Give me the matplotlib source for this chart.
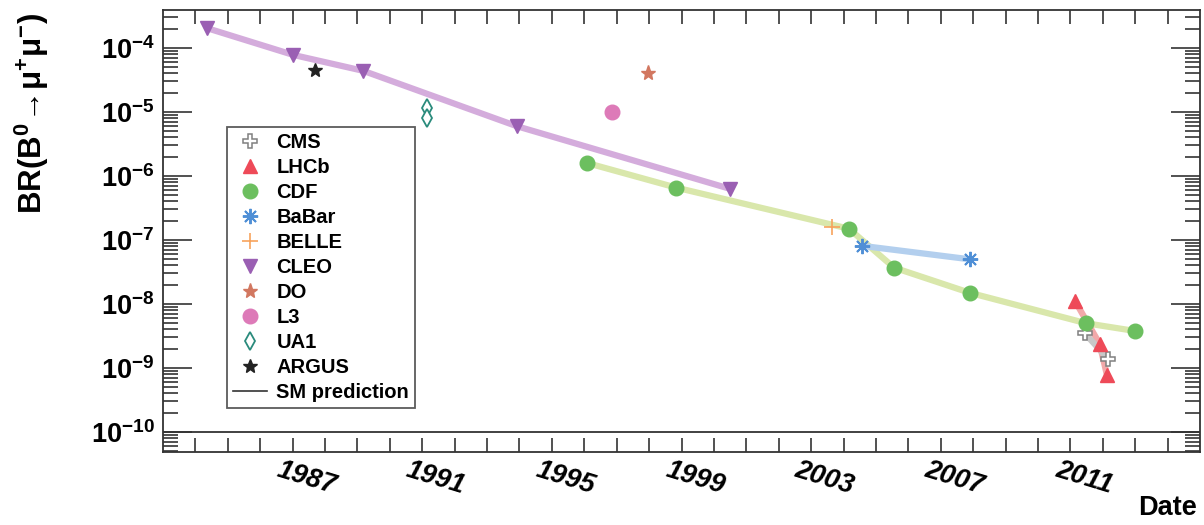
import matplotlib
matplotlib.use("Agg")
import matplotlib.pyplot as plt
from matplotlib.lines import Line2D
from matplotlib.ticker import FixedLocator, FuncFormatter, NullFormatter
import matplotlib.transforms as mtransforms
import numpy as np

plt.rcParams['font.family'] = ['Liberation Sans', 'DejaVu Sans']
plt.rcParams['mathtext.fontset'] = 'custom'
plt.rcParams['mathtext.rm'] = 'Liberation Sans:bold'
plt.rcParams['mathtext.bf'] = 'Liberation Sans:bold'
plt.rcParams['mathtext.it'] = 'Liberation Sans:bold:italic'

# ---------------- data ----------------
cms_year = [2011.44, 2012.16]
cms_br = [3.5e-9, 1.4e-9]
lhcb_year = [2011.15, 2011.90, 2012.13]
lhcb_br = [1.1e-8, 2.4e-9, 7.7e-10]
cdf_year = [1996.08, 1998.83, 2004.17, 2005.56, 2007.89, 2011.49, 2012.98]
cdf_br = [1.6e-6, 6.6e-7, 1.5e-7, 3.7e-8, 1.5e-8, 5.0e-9, 3.8e-9]
babar_year = [2004.58, 2007.89]
babar_br = [8.1e-8, 5.0e-8]
belle_year = [2003.64]
belle_br = [1.6e-7]
cleo_year = [1984.35, 1987.02, 1989.18, 1993.92, 2000.5]
cleo_br = [2.05e-4, 7.8e-5, 4.4e-5, 6.0e-6, 6.3e-7]
d0_year = [1997.97]
d0_br = [4.1e-5]
l3_year = [1996.85]
l3_br = [1.0e-5]
ua1_year = [1991.16, 1991.16]
ua1_br = [1.17e-5, 8.2e-6]
argus_year = [1987.69]
argus_br = [4.5e-5]

year_labels = [1987, 1991, 1995, 1999, 2003, 2007, 2011]
tick_years = list(range(1984, 2015))

# ---------------- figure ----------------
fig = plt.figure(figsize=(12.04, 5.25), dpi=100)
ax = fig.add_axes([163/1204, 1-452/525, (1200-163)/1204, (452-10)/525])
ax.set_yscale('log')
ax.set_xlim(1983, 2015)
ax.set_ylim(10**-10.3125, 10**-3.406)

# trend lines
ax.plot(cleo_year, cleo_br, color='#d4acdc', lw=4.5, solid_capstyle='butt', zorder=2)
ax.plot(cdf_year, cdf_br, color='#d9e7ab', lw=4.5, solid_capstyle='butt', zorder=2)
ax.plot(babar_year, babar_br, color='#b3cfee', lw=4.5, solid_capstyle='butt', zorder=2)
ax.plot(lhcb_year, lhcb_br, color='#f2a9aa', lw=4.5, solid_capstyle='butt', zorder=2)
ax.plot(cms_year, cms_br, color='#c8c8c8', lw=4.5, solid_capstyle='butt', zorder=2)

# markers
h_cms, = ax.plot(cms_year, cms_br, ls='none', marker='P', ms=10, mfc='white', mec='#808080', mew=1.1, zorder=4, label='CMS')
h_lhcb, = ax.plot(lhcb_year, lhcb_br, ls='none', marker='^', ms=10, color='#ee4a58', zorder=4, label='LHCb')
h_cdf, = ax.plot(cdf_year, cdf_br, ls='none', marker='o', ms=10.5, color='#6cbf5f', zorder=4, label='CDF')
h_babar, = ax.plot(babar_year, babar_br, ls='none', marker=(8, 2, 0), ms=11, color='#4f8fd6', mew=1.4, zorder=4, label='BaBar')
h_belle, = ax.plot(belle_year, belle_br, ls='none', marker='+', ms=12, color='#f7a35c', mew=1.2, zorder=4, label='BELLE')
h_cleo, = ax.plot(cleo_year, cleo_br, ls='none', marker='v', ms=10, color='#9a5fb3', zorder=4, label='CLEO')
h_d0, = ax.plot(d0_year, d0_br, ls='none', marker='*', ms=11, color='#d27760', zorder=4, label='DO')
h_l3, = ax.plot(l3_year, l3_br, ls='none', marker='o', ms=10.5, color='#dd7ab8', zorder=4, label='L3')
h_ua1, = ax.plot(ua1_year, ua1_br, ls='none', marker='d', ms=9, mfc='white', mec='#2a8b7c', mew=1.3, zorder=4, label='UA1')
h_argus, = ax.plot(argus_year, argus_br, ls='none', marker='*', ms=10, color='#222222', zorder=4, label='ARGUS')
h_sm = Line2D([], [], color='#333333', lw=1.2, label='SM prediction')

ax.axhline(1e-10, color='#333333', lw=1.3, zorder=1)

# axes styling
for sp in ax.spines.values():
    sp.set_linewidth(1.3)
    sp.set_color('#333333')

ax.xaxis.set_major_locator(FixedLocator(tick_years))
ax.xaxis.set_major_formatter(NullFormatter())
ax.xaxis.set_minor_locator(FixedLocator([]))
ax.tick_params(axis='x', which='major', direction='in', top=True, bottom=True,
               length=10, width=1.2, color='#333333')

ax.yaxis.set_major_locator(FixedLocator([10.0**k for k in range(-11, -2)]))
ax.yaxis.set_major_formatter(FuncFormatter(lambda v, p: r'$\mathbf{10^{%d}}$' % int(round(np.log10(v)))))
minor_vals = []
for k in range(-11, -2):
    for s in [2, 3, 4, 5, 6, 7, 8, 9]:
        minor_vals.append(s * 10.0**k)
ax.yaxis.set_minor_locator(FixedLocator(minor_vals))
ax.yaxis.set_minor_formatter(NullFormatter())
ax.tick_params(axis='y', which='major', direction='in', left=True, right=True,
               length=21, width=1.2, color='#333333', labelsize=19.5, pad=6)
ax.tick_params(axis='y', which='minor', direction='in', left=True, right=True,
               length=11, width=1.2, color='#333333')

# x labels (rotated, bold italic)
trans = mtransforms.blended_transform_factory(ax.transData, ax.transAxes)
for yr in year_labels:
    ax.text(yr + 0.42, -0.059, str(yr), transform=trans, rotation=-17,
            ha='center', va='center', rotation_mode='anchor',
            fontsize=19.5, fontweight='bold', fontstyle='italic')

ax.text(0.997, -0.127, 'Date', transform=ax.transAxes, ha='right', va='center',
        fontsize=19.5, fontweight='bold')

ax.text(-0.1263, 0.767, r'BR(B$^{\mathbf{0}}\!\rightarrow\!\mathbf{\mu^{+}\mu^{-}}$)',
        transform=ax.transAxes, rotation=90, ha='center', va='center',
        fontsize=22.5, fontweight='bold')

leg = ax.legend(handles=[h_cms, h_lhcb, h_cdf, h_babar, h_belle, h_cleo, h_d0, h_l3, h_ua1, h_argus, h_sm],
                loc='upper left', bbox_to_anchor=((227-163)/1037, (452-127)/442),
                frameon=True, fancybox=False, shadow=False,
                prop={'weight': 'bold', 'size': 14.5},
                labelspacing=0.3, handlelength=1.7, handletextpad=0.45,
                borderpad=0.3, borderaxespad=0, numpoints=1)
leg.get_frame().set_edgecolor('#333333')
leg.get_frame().set_linewidth(1.3)

fig.savefig('out.png', dpi=100)
